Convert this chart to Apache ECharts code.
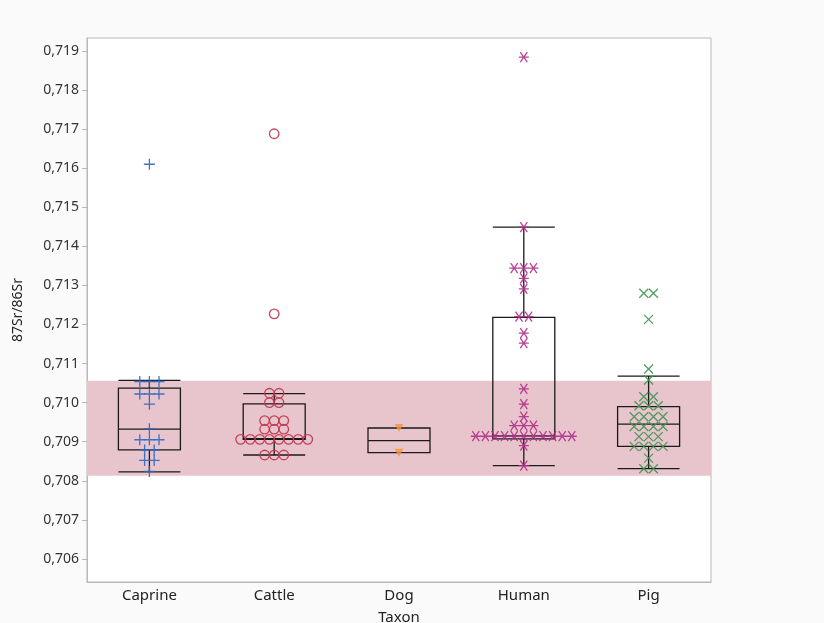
<!DOCTYPE html>
<html>
<head>
<meta charset="utf-8">
<script src="https://cdn.jsdelivr.net/npm/echarts@6/dist/echarts.min.js"></script>
<style>
  html, body { margin: 0; padding: 0; background: #fafafa; }
  #chart { width: 824px; height: 623px; }
</style>
</head>
<body>
<div id="chart"></div>
<script>
// ---- Data ----
const categories = ['Caprine', 'Cattle', 'Dog', 'Human', 'Pig'];

const caprineValues = [0.7161,
  0.71054, 0.71054, 0.71054,
  0.71022, 0.71022, 0.71022,
  0.70996, 0.70933,
  0.70905, 0.70905, 0.70905,
  0.70879, 0.70879,
  0.70852, 0.70852,
  0.70824];

const cattleValues = [0.71688, 0.71227,
  0.71024, 0.71024,
  0.71000, 0.71000,
  0.70954, 0.70954, 0.70954,
  0.70932, 0.70932, 0.70932,
  0.70906, 0.70906, 0.70906, 0.70906, 0.70906, 0.70906, 0.70906, 0.70906,
  0.70866, 0.70866, 0.70866];

const dogValues = [0.70935, 0.70872];

const humanValues = [0.71884, 0.71449,
  0.71344, 0.71344, 0.71344,
  0.71318, 0.71291,
  0.71220, 0.71220,
  0.71178, 0.71152, 0.71035, 0.70996, 0.70964,
  0.70941, 0.70941, 0.70941,
  0.70914, 0.70914, 0.70914, 0.70914, 0.70914, 0.70914, 0.70914, 0.70914, 0.70914, 0.70914, 0.70914,
  0.70890, 0.70839];

const pigValues = [0.71280, 0.71280,
  0.71213, 0.71086, 0.71058,
  0.71015, 0.71015,
  0.70992, 0.70992, 0.70992,
  0.70964, 0.70964, 0.70964, 0.70964,
  0.70939, 0.70939, 0.70939, 0.70939,
  0.70913, 0.70913, 0.70913,
  0.70888, 0.70888, 0.70888, 0.70888,
  0.70858,
  0.70831, 0.70831];

// box statistics: [lower whisker, Q1, median, Q3, upper whisker]
const caprineBox = [0.70823, 0.70879, 0.70932, 0.71037, 0.71057];
const cattleBox  = [0.70866, 0.70906, 0.70908, 0.70997, 0.71023];
const dogBox     = [0.70872, 0.70872, 0.70903, 0.70935, 0.70935];
const humanBox   = [0.70839, 0.70907, 0.70915, 0.71218, 0.71449];
const pigBox     = [0.70831, 0.70888, 0.70945, 0.70990, 0.71068];

const referenceBand = [0.70813, 0.71056];

const yTickValues = [0.706, 0.707, 0.708, 0.709, 0.710, 0.711, 0.712, 0.713, 0.714, 0.715, 0.716, 0.717, 0.718, 0.719];

// ---- Layout / styling ----
const GRID = { left: 87, right: 113, top: 38, bottom: 41 };
const SLOT = 9.6 / 124.8; // horizontal spacing of stacked points, in category units

function swarm(values, catIndex) {
  const counts = new Map();
  values.forEach(v => {
    const k = v.toFixed(5);
    counts.set(k, (counts.get(k) || 0) + 1);
  });
  const out = [];
  counts.forEach((n, k) => {
    for (let i = 0; i < n; i++) out.push([catIndex + (i - (n - 1) / 2) * SLOT, +k]);
  });
  return out;
}

const plusPath = 'path://M0,5L10,5M5,0L5,10';
const crossPath = 'path://M0,0L10,10M10,0L0,10';
const asteriskPath = 'path://M0,5L10,5M1.5,0.8L8.5,9.2M8.5,0.8L1.5,9.2';

function strokeScatter(name, values, idx, symbol, color, size) {
  return {
    name, type: 'scatter', xAxisIndex: 1, yAxisIndex: 0, z: 4,
    data: swarm(values, idx),
    symbol, symbolSize: size,
    itemStyle: { color: 'transparent', borderColor: color, borderWidth: 1.3, opacity: 0.9 },
    silent: true
  };
}

const chart = echarts.init(document.getElementById('chart'), null, { renderer: 'canvas' });

const option = {
  backgroundColor: '#fafafa',
  animation: false,
  grid: Object.assign({ show: true, backgroundColor: '#ffffff', borderColor: '#b8b8b8', borderWidth: 1, containLabel: false, outerBoundsMode: 'none' }, GRID),
  xAxis: [
    {
      type: 'category', data: categories, boundaryGap: true,
      axisLine: { show: true, lineStyle: { color: '#b8b8b8' } },
      axisTick: { show: false },
      axisLabel: { color: '#222', fontSize: 15, fontFamily: 'Noto Sans', margin: 6 },
      name: 'Taxon', nameLocation: 'middle', nameGap: 28,
      nameTextStyle: { color: '#222', fontSize: 15, fontFamily: 'Noto Sans' },
      splitLine: { show: false }
    },
    { type: 'value', min: -0.5, max: 4.5, show: false }
  ],
  yAxis: {
    type: 'value', min: 0.70541, max: 0.71933,
    name: '87Sr/86Sr', nameLocation: 'middle', nameGap: 62,
    nameTextStyle: { color: '#222', fontSize: 14, fontFamily: 'Noto Sans' },
    axisLine: { show: true, onZero: false, lineStyle: { color: '#b8b8b8' } },
    axisTick: { show: true, length: 5, lineStyle: { color: '#b8b8b8' }, customValues: yTickValues },
    axisLabel: {
      customValues: yTickValues,
      formatter: v => v.toFixed(3).replace('.', ','),
      color: '#333', fontSize: 14, fontFamily: 'Noto Sans', margin: 8
    },
    splitLine: { show: false }
  },
  series: [
    {
      name: 'band', type: 'scatter', xAxisIndex: 1, yAxisIndex: 0, z: 1, data: [],
      markArea: {
        silent: true,
        itemStyle: { color: '#e8c5cc' },
        data: [[{ yAxis: referenceBand[0] }, { yAxis: referenceBand[1] }]]
      }
    },
    {
      name: 'box', type: 'boxplot', xAxisIndex: 0, yAxisIndex: 0, z: 3,
      boxWidth: [62, 62],
      data: [caprineBox, cattleBox, dogBox, humanBox, pigBox],
      itemStyle: { color: 'transparent', borderColor: '#1a1a1a', borderWidth: 1.3 },
      silent: true
    },
    strokeScatter('Caprine', caprineValues, 0, plusPath, '#2e66c0', 11),
    strokeScatter('Cattle', cattleValues, 1, 'circle', '#c0344e', 9.5),
    {
      name: 'Dog', type: 'scatter', xAxisIndex: 1, yAxisIndex: 0, z: 4,
      data: swarm(dogValues, 2),
      symbol: 'triangle', symbolRotate: 180, symbolSize: [9, 8],
      itemStyle: { color: '#f7943a' }, silent: true
    },
    strokeScatter('Human', humanValues, 3, asteriskPath, '#b0308a', 10),
    strokeScatter('Pig', pigValues, 4, crossPath, '#3f9350', 9)
  ]
};

chart.setOption(option);
</script>
</body>
</html>
